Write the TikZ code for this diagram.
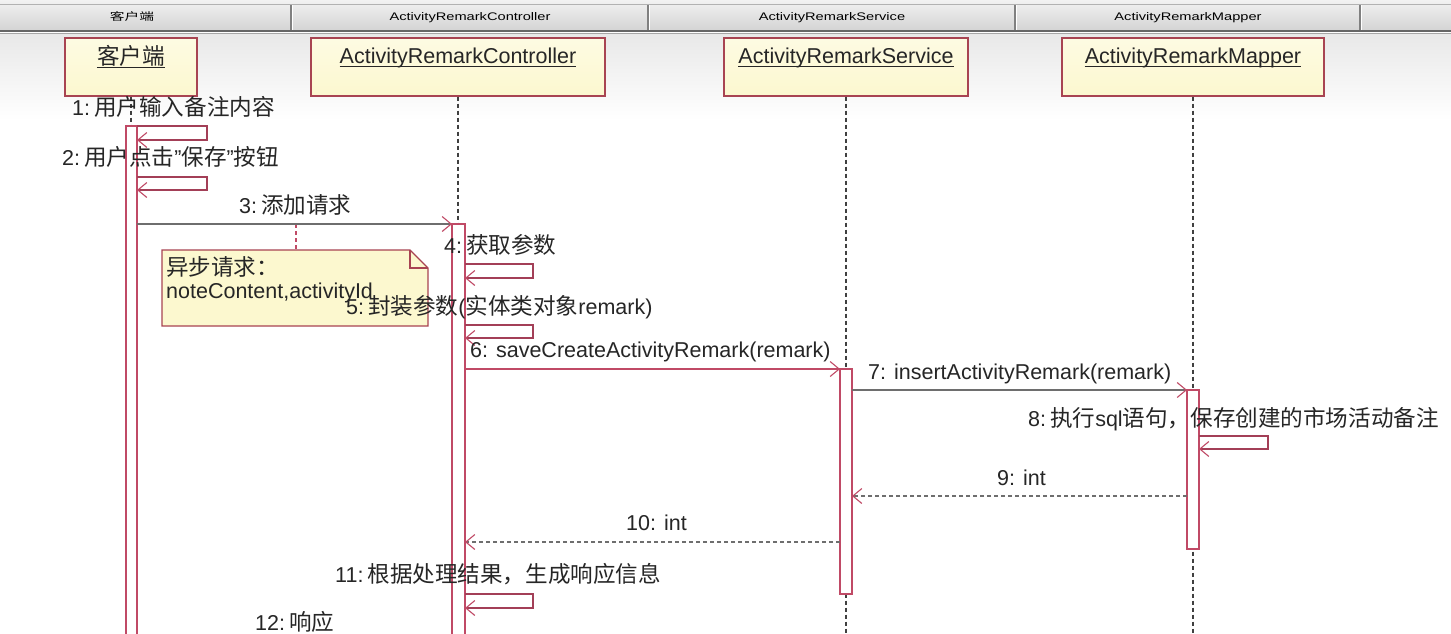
\documentclass[tikz,border=0pt]{standalone}
\usepackage{fontspec}
\setmainfont{Liberation Sans}
\newfontfamily\cjk[Scale=1.05]{Noto Sans CJK SC}
\newfontfamily\hdrfont[FakeStretch=1.33]{Liberation Sans}
\newfontfamily\hdrcjk[FakeStretch=1.4]{Noto Sans CJK SC}
\usetikzlibrary{arrows.meta}
\definecolor{redline}{HTML}{C04A66}
\definecolor{boxred}{HTML}{A84452}
\definecolor{grayline}{HTML}{6E6E6E}
\definecolor{boxfill}{HTML}{FCF8CF}
\definecolor{txt}{HTML}{262626}
\newcommand{\cg}{\hspace{4pt}}
\begin{document}
\begin{tikzpicture}[x=1pt,y=-1pt,
  lifebox/.style={draw=boxred, line width=1.1pt, top color=boxfill!60!white, bottom color=boxfill, minimum height=58pt, inner sep=0pt},
  title/.style={anchor=base, inner sep=0pt, text=txt, font=\fontsize{21.5}{25}\selectfont},
  titleline/.style={draw=txt, line width=1pt},
  hdr/.style={anchor=base, inner sep=0pt, text=black, font=\fontsize{11}{13}\hdrfont},
  lifeline/.style={draw=black!75, line width=1.1pt, dash pattern=on 4pt off 3pt},
  actbar/.style={draw=redline, line width=1.1pt, fill=white},
  tip/.style={-{Straight Barb[length=9pt,width=15pt,line width=1.1pt,color=redline]}},
  msg/.style={draw=grayline, line width=1.2pt, tip},
  msgred/.style={draw=redline, line width=1.2pt, tip},
  ret/.style={draw=grayline, line width=1.2pt, dash pattern=on 4pt off 3pt, tip},
  selfmsg/.style={draw=redline!85!black, line width=1.1pt, tip},
  lbl/.style={anchor=base west, inner sep=0pt, text=txt, font=\fontsize{21.5}{25}\selectfont},
  notebox/.style={draw=boxred, line width=1.1pt, fill=boxfill},
  noteanchor/.style={draw=redline, line width=1.1pt, dash pattern=on 4pt off 3pt}
]
\useasboundingbox (0,0) rectangle (1451,633);
\clip (0,0) rectangle (1451,633);
\fill[white] (0,0) rectangle (1451,633);
% background gradient below header
\shade[top color=black!9, bottom color=white] (0,33) rectangle (1451,120);
% header bar
\shade[top color=black!5, bottom color=black!17] (0,0) rectangle (1451,30);
\draw[black!30, line width=0.8pt] (0,4) -- (1451,4);
\draw[black!60, line width=2pt] (0,31) -- (1451,31);
\draw[black!35, line width=1pt] (0,33.5) -- (1451,33.5);
\foreach \sx in {291,648,1015,1360} {
  \draw[black!50, line width=1.4pt] (\sx,5) -- (\sx,30);
  \draw[white, line width=1pt] (\sx+1.5,5) -- (\sx+1.5,30);
}
\node[hdr, font=\fontsize{10.5}{13}\hdrcjk] (h1) at (132,20) {客户端};
\node[hdr] (h2) at (470,20) {ActivityRemarkController};
\node[hdr] (h3) at (832,20) {ActivityRemarkService};
\node[hdr] (h4) at (1188,20) {ActivityRemarkMapper};

% lifeline boxes
\node[lifebox, minimum width=132pt] (cli) at (131,67) {};
\node[lifebox, minimum width=294pt] (ctl) at (458,67) {};
\node[lifebox, minimum width=244pt] (svc) at (846,67) {};
\node[lifebox, minimum width=262pt] (map) at (1193,67) {};
\node[title, font=\fontsize{21.5}{25}\cjk] (tcli) at (131,64) {客户端};
\node[title] (tctl) at (458,63) {ActivityRemarkController};
\node[title] (tsvc) at (846,63) {ActivityRemarkService};
\node[title] (tmap) at (1193,63) {ActivityRemarkMapper};
\foreach \t in {tcli,tctl,tsvc,tmap} {
  \draw[titleline] ([yshift=-3.5pt]\t.base west) -- ([yshift=-3.5pt]\t.base east);
}

% lifelines
\coordinate (endcli) at (131,640);
\coordinate (endctl) at (458,640);
\coordinate (endsvc) at (846,640);
\coordinate (endmap) at (1193,640);
\draw[lifeline] (cli.south) -- (endcli);
\draw[lifeline] (ctl.south) -- (endctl);
\draw[lifeline] (svc.south) -- (endsvc);
\draw[lifeline] (map.south) -- (endmap);

% activation bars
\draw[actbar] (126,126) rectangle (137,645);
\draw[actbar] (452,224) rectangle (465,645);
\draw[actbar] (840,369) rectangle (852,594);
\draw[actbar] (1187,390) rectangle (1199,549);

% note
\coordinate (nanchor) at (296,224);
\coordinate (ntop) at (296,250);
\draw[noteanchor] (nanchor) -- (ntop);
\draw[notebox] (162,250) -- (410,250) -- (428,268) -- (428,326) -- (162,326) -- cycle;
\draw[draw=boxred, line width=1.1pt] (410,250) -- (410,268) -- (428,268);
\node[lbl, font=\fontsize{21.5}{25}\cjk] (n1) at (166,275) {异步请求：};
\node[lbl] (n2) at (166,298) {noteContent,activityId};

% message endpoints
\coordinate (a1) at (137,126); \coordinate (b1) at (137,140);
\coordinate (a2) at (137,177); \coordinate (b2) at (137,190);
\coordinate (m3s) at (137,224); \coordinate (m3e) at (452,224);
\coordinate (a4) at (465,264); \coordinate (b4) at (465,278);
\coordinate (a5) at (465,325); \coordinate (b5) at (465,338);
\coordinate (m6s) at (465,369); \coordinate (m6e) at (840,369);
\coordinate (m7s) at (852,390); \coordinate (m7e) at (1187,390);
\coordinate (a8) at (1199,436); \coordinate (b8) at (1199,449);
\coordinate (m9s) at (1187,496); \coordinate (m9e) at (852,496);
\coordinate (m10s) at (840,542); \coordinate (m10e) at (465,542);
\coordinate (a11) at (465,594); \coordinate (b11) at (465,608);

\draw[selfmsg] (a1) -| (207,140) -- (b1);
\draw[selfmsg] (a2) -| (207,190) -- (b2);
\draw[msg] (m3s) -- (m3e);
\draw[selfmsg] (a4) -| (533,278) -- (b4);
\draw[selfmsg] (a5) -| (533,338) -- (b5);
\draw[msgred] (m6s) -- (m6e);
\draw[msg] (m7s) -- (m7e);
\draw[selfmsg] (a8) -| (1268,449) -- (b8);
\draw[ret] (m9s) -- (m9e);
\draw[ret] (m10s) -- (m10e);
\draw[selfmsg] (a11) -| (533,608) -- (b11);

% labels
\node[lbl] (l1) at (72,115) {1:\cg{\cjk 用户输入备注内容}};
\node[lbl] (l2) at (62,165) {2:\cg{\cjk 用户点击}"{\cjk 保存}"{\cjk 按钮}};
\node[lbl] (l3) at (239,213) {3:\cg{\cjk 添加请求}};
\node[lbl] (l4) at (444,253) {4:\cg{\cjk 获取参数}};
\node[lbl] (l5) at (346,314) {5:\cg{\cjk 封装参数}({\cjk 实体类对象}remark)};
\node[lbl] (l6) at (470,357) {6: saveCreateActivityRemark(remark)};
\node[lbl] (l7) at (868,379) {7: insertActivityRemark(remark)};
\node[lbl] (l8) at (1028,426) {8:\cg{\cjk 执行}sql{\cjk 语句，保存创建的市场活动备注}};
\node[lbl] (l9) at (997,485) {9: int};
\node[lbl] (l10) at (626,530) {10: int};
\node[lbl] (l11) at (335,582) {11:\cg{\cjk 根据处理结果，生成响应信息}};
\node[lbl] (l12) at (255,630) {12:\cg{\cjk 响应}};
\end{tikzpicture}
\end{document}
